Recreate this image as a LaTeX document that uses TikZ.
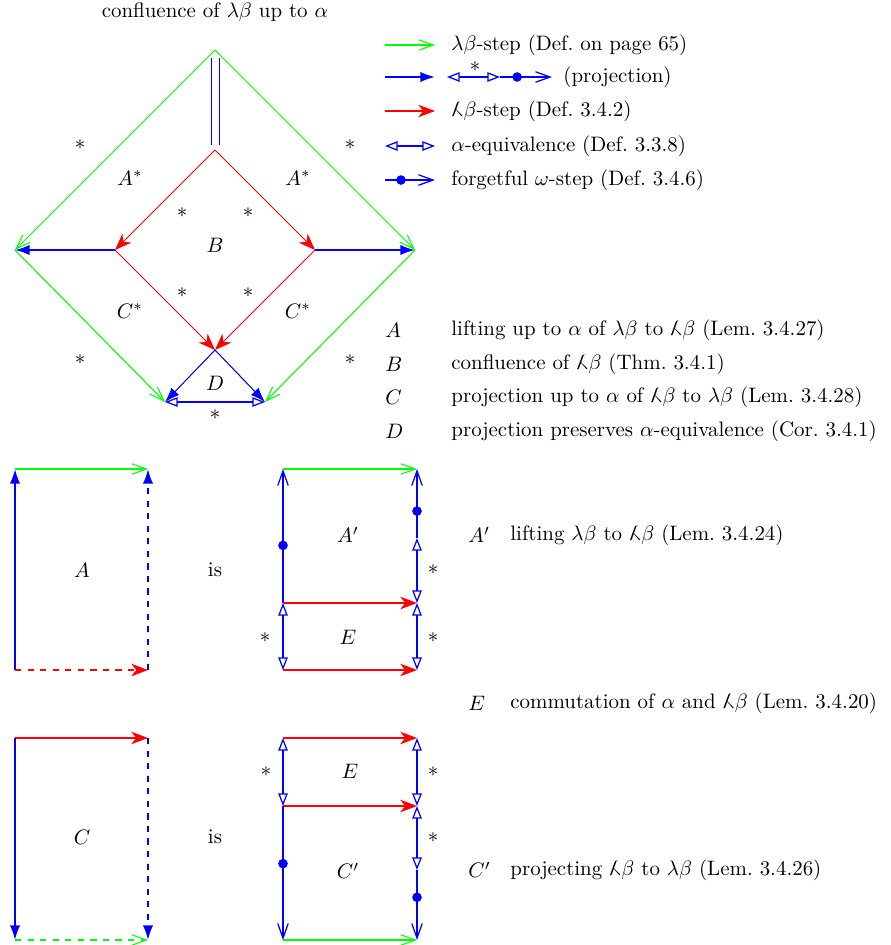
\documentclass[tikz,border=0pt]{standalone}
\usepackage{amsmath}
\usepackage{graphicx}
\usetikzlibrary{calc,arrows.meta}
\usetikzlibrary{positioning, decorations.markings}
\newcommand{\lamb}{\reflectbox{$\lambda$}}

\begin{document}
\begin{tikzpicture}[x=0.0168cm, y=-0.0168cm,
lb/.style={green, line width=0.5pt, -{Straight Barb[length=7pt, width=5pt]}
}, lbl/.style={red, line width=0.5pt, -{Stealth[length=8pt, width=6pt, inset=2.4pt]}
}, proj/.style={blue, line width=1pt, -{Latex[length=7pt, width=5pt]}
}, alph/.style={blue, line width=0.8pt, {Triangle[open, length=6pt, width=4.5pt, line width=0.6pt]}-{Triangle[open, length=6pt, width=4.5pt, line width=0.6pt]}
}, fgt/.style={blue, line width=0.8pt, -{Straight Barb[length=7pt, width=5pt, line width=0.6pt]},
  postaction={decorate, decoration={markings, mark=at position #1 with {\fill[blue] circle (2.3pt);}}}
}, fgt/.default=0.35, txt/.style={anchor=west, inner sep=0pt}, star/.style={inner sep=0pt}]
\useasboundingbox (0,0) rectangle (890,945);

% confluence diamond
\node (title) at (215,12) {confluence of $\lambda\beta$ up to $\alpha$};
\coordinate (T) at (215,50);
\coordinate (L) at (15,250);
\coordinate (R) at (415,250);
\coordinate (RT) at (215,150);
\coordinate (ML) at (115,250);
\coordinate (MR) at (315,250);
\coordinate (RB) at (215,350);
\coordinate (DL) at (165,402);
\coordinate (DR) at (265,402);
\coordinate (dt) at (215.5,58);
\coordinate (db) at (215.5,145);
\foreach \i/\j in {T/L,T/R,L/DL,R/DR}{\draw[lb] (\i) -- (\j);}
\foreach \i/\j in {RT/ML,RT/MR,ML/RB,MR/RB}{\draw[lbl] (\i) -- (\j);}
\foreach \i/\j in {ML/L,MR/R}{\draw[proj] (\i) -- (\j);}
\foreach \i/\j in {RB/DL,RB/DR}{\draw[proj, line width=0.5pt] (\i) -- (\j);}
\draw[alph] (DL) -- (DR);
\draw[blue, line width=0.6pt, double, double distance=3.3pt] (dt) -- (db);
\foreach \n/\x/\y in {s1/80/145,s2/350/145,s3/80/360,s4/350/360,s5/182/213,s6/248/213,
  s7/182/293,s8/248/293,s9/215/415}{\node[star] (\n) at (\x,\y) {$*$};}
\foreach \n/\x/\y/\t in {lA1/130/178/A^*,lA2/298/178/A^*,lB/215/245/B,lC1/130/311/C^*,
  lC2/298/311/C^*,lD/215/383/D}{\node (\n) at (\x,\y) {$\t$};}

% legend
\foreach \k/\y in {1/45,2/77,3/111,4/146,5/180}{
  \coordinate (g\k) at (385,\y); \coordinate (h\k) at (435,\y);}
\draw[lb] (g1) -- (h1);
\draw[proj] (g2) -- (h2);
\draw[lbl] (g3) -- (h3);
\draw[alph] (g4) -- (h4);
\draw[fgt=0.32] (g5) -- (h5);
\coordinate (e1) at (447,77);
\coordinate (e2) at (500,77);
\coordinate (e3) at (552,77);
\draw[alph] (e1) -- (e2);
\draw[fgt=0.33] (e2) -- (e3);
\node[star] (s10) at (475,67) {$*$};
\node[txt] (t1) at (451,45) {$\lambda\beta$-step (Def.\ on page 65)};
\node[txt] (t2) at (563,77) {(projection)};
\node[txt] (t3) at (451,111) {$\lamb\beta$-step (Def.\ 3.4.2)};
\node[txt] (t4) at (451,146) {$\alpha$-equivalence (Def.\ 3.3.8)};
\node[txt] (t5) at (451,180) {forgetful $\omega$-step (Def.\ 3.4.6)};

\foreach \n/\y/\l/\t in {
  dA/330/A/lifting up to $\alpha$ of $\lambda\beta$ to $\lamb\beta$ (Lem.\ 3.4.27),
  dB/364/B/confluence of $\lamb\beta$ (Thm.\ 3.4.1),
  dC/397/C/projection up to $\alpha$ of $\lamb\beta$ to $\lambda\beta$ (Lem.\ 3.4.28),
  dD/431/D/projection preserves $\alpha$-equivalence (Cor.\ 3.4.1)}{
  \node[txt] (\n) at (385,\y) {$\l$};
  \node[txt] (\n t) at (451,\y) {\t};}

% lifting A
\coordinate (a1) at (15,469);
\coordinate (a2) at (148,469);
\coordinate (a3) at (15,670);
\coordinate (a4) at (148,670);
\draw[lb] (a1) -- (a2);
\draw[proj] (a3) -- (a1);
\draw[proj, dashed] (a4) -- (a2);
\draw[lbl, dashed] (a3) -- (a4);
\node (lA) at (82,570) {$A$};
\node (is1) at (215,570) {is};
\coordinate (p1) at (283,469);
\coordinate (p2) at (417,469);
\coordinate (p3) at (283,603);
\coordinate (p4) at (417,603);
\coordinate (p5) at (283,670);
\coordinate (p6) at (417,670);
\coordinate (pm) at (417,538);
\draw[lb] (p1) -- (p2);
\draw[fgt=0.43] (p3) -- (p1);
\draw[alph] (p3) -- (p5);
\draw[lbl] (p3) -- (p4);
\draw[lbl] (p5) -- (p6);
\draw[alph] (p4) -- (pm);
\draw[fgt=0.39] (pm) -- (p2);
\draw[alph] (p4) -- (p6);
\node (lAp) at (348,535) {$A'$};
\node (lE1) at (348,637) {$E$};
\node[star] (s11) at (433,570) {$*$};
\node[star] (s12) at (265,638) {$*$};
\node[star] (s13) at (433,638) {$*$};

% projection C
\coordinate (c1) at (15,738);
\coordinate (c2) at (148,738);
\coordinate (c3) at (15,940);
\coordinate (c4) at (148,940);
\draw[lbl] (c1) -- (c2);
\draw[proj] (c1) -- (c3);
\draw[proj, dashed] (c2) -- (c4);
\draw[lb, dashed] (c3) -- (c4);
\node (lC) at (82,837) {$C$};
\node (is2) at (215,837) {is};
\coordinate (q1) at (283,738);
\coordinate (q2) at (417,738);
\coordinate (q3) at (283,806);
\coordinate (q4) at (417,806);
\coordinate (q5) at (283,940);
\coordinate (q6) at (417,940);
\coordinate (qm) at (417,870);
\draw[lbl] (q1) -- (q2);
\draw[lbl] (q3) -- (q4);
\draw[lb] (q5) -- (q6);
\draw[alph] (q1) -- (q3);
\draw[alph] (q2) -- (q4);
\draw[fgt=0.43] (q3) -- (q5);
\draw[alph] (q4) -- (qm);
\draw[fgt=0.39] (qm) -- (q6);
\node (lE2) at (350,771) {$E$};
\node (lCp) at (348,871) {$C'$};
\node[star] (s14) at (266,772) {$*$};
\node[star] (s15) at (433,772) {$*$};
\node[star] (s16) at (433,838) {$*$};

\node[txt] (xA) at (468,535) {$A'$};
\node[txt] (xAt) at (510,535) {lifting $\lambda\beta$ to $\lamb\beta$ (Lem.\ 3.4.24)};
\node[txt] (xE) at (468,703) {$E$};
\node[txt] (xEt) at (510,703) {commutation of $\alpha$ and $\lamb\beta$ (Lem.\ 3.4.20)};
\node[txt] (xC) at (468,870) {$C'$};
\node[txt] (xCt) at (510,870) {projecting $\lamb\beta$ to $\lambda\beta$ (Lem.\ 3.4.26)};
\end{tikzpicture}
\end{document}
